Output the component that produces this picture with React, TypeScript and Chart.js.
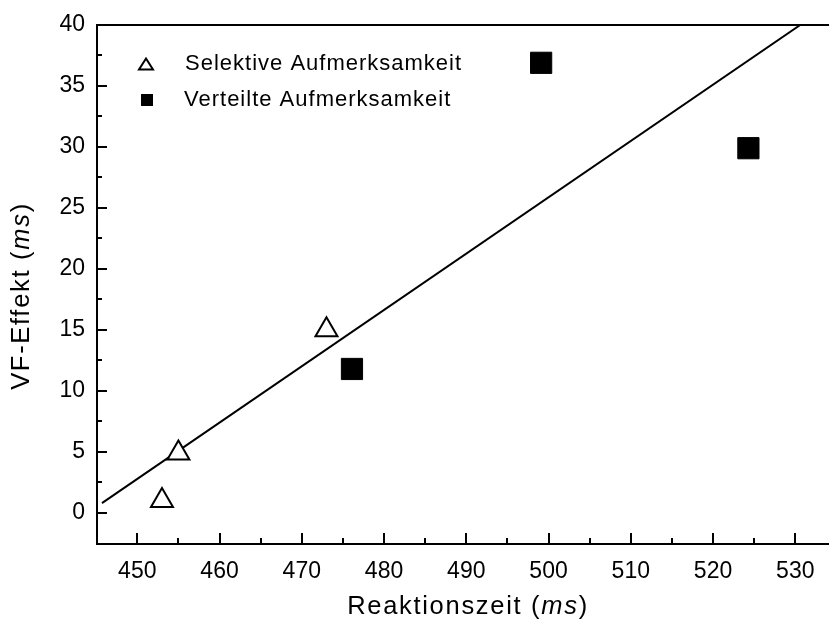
import React, { useEffect, useRef } from "react";
import { Chart, registerables } from "chart.js";

Chart.register(...registerables);

// ---- data ----
const selX = [453.0, 455.0, 473.0];
const selY = [1.0, 4.9, 15.0];
const verX = [476.1, 499.1, 524.3];
const verY = [11.8, 36.9, 29.9];
const fitX = [445.7, 530.6];
const fitY = [0.8, 40.0];
const xTicks = [450, 460, 470, 480, 490, 500, 510, 520, 530];
const xMinor = [455, 465, 475, 485, 495, 505, 515, 525];
const yTicks = [0, 5, 10, 15, 20, 25, 30, 35, 40];
const yMinor = [2.5, 7.5, 12.5, 17.5, 22.5, 27.5, 32.5, 37.5];
const legendLabels = ["Selektive Aufmerksamkeit", "Verteilte Aufmerksamkeit"];
const xTitleParts = ["Reaktionszeit (", "ms", ")"];
const yTitleParts = ["VF-Effekt (", "ms", ")"];

const FONT = "'Liberation Sans', Arial, Helvetica, sans-serif";

function drawMixed(ctx: any, parts: string[], cx: number, cy: number, size: number, spacing: number) {
  const fonts = parts.map((_, i) => (i === 1 ? `italic ${size}px ${FONT}` : `${size}px ${FONT}`));
  ctx.letterSpacing = `${spacing}px`;
  let total = 0;
  const widths = parts.map((p, i) => {
    ctx.font = fonts[i];
    const w = ctx.measureText(p).width;
    total += w;
    return w;
  });
  let x = cx - total / 2;
  ctx.textBaseline = "middle";
  ctx.textAlign = "left";
  parts.forEach((p, i) => {
    ctx.font = fonts[i];
    ctx.fillText(p, x, cy);
    x += widths[i];
  });
  ctx.letterSpacing = "0px";
}

const framePlugin = {
  id: "frame",
  afterDraw(chart: any) {
    const { ctx, chartArea, scales } = chart;
    const xs = scales.x;
    const ys = scales.y;
    const { left, right, top, bottom } = chartArea;
    ctx.save();
    ctx.strokeStyle = "#000";
    ctx.fillStyle = "#000";
    ctx.lineWidth = 2;
    // axes and top frame line
    ctx.beginPath();
    ctx.moveTo(left, top);
    ctx.lineTo(right, top);
    ctx.moveTo(left, top - 1);
    ctx.lineTo(left, bottom + 1);
    ctx.moveTo(left - 1, bottom);
    ctx.lineTo(right, bottom);
    ctx.stroke();
    // inward ticks
    ctx.beginPath();
    xTicks.forEach((v) => {
      const p = Math.round(xs.getPixelForValue(v));
      ctx.moveTo(p, bottom);
      ctx.lineTo(p, bottom - 11);
    });
    xMinor.forEach((v) => {
      const p = Math.round(xs.getPixelForValue(v));
      ctx.moveTo(p, bottom);
      ctx.lineTo(p, bottom - 6);
    });
    yTicks.forEach((v) => {
      const p = Math.round(ys.getPixelForValue(v));
      ctx.moveTo(left, p);
      ctx.lineTo(left + 10, p);
    });
    yMinor.forEach((v) => {
      const p = Math.round(ys.getPixelForValue(v));
      ctx.moveTo(left, p);
      ctx.lineTo(left + 5, p);
    });
    ctx.stroke();

    // legend
    ctx.lineWidth = 2;
    const tx = 146, ty = 65;
    ctx.beginPath();
    ctx.moveTo(tx, ty - 6.5);
    ctx.lineTo(tx + 7, ty + 4.5);
    ctx.lineTo(tx - 7, ty + 4.5);
    ctx.closePath();
    ctx.fillStyle = "#fff";
    ctx.fill();
    ctx.stroke();
    ctx.fillStyle = "#000";
    ctx.fillRect(141, 94, 12, 12);
    ctx.font = `22px ${FONT}`;
    ctx.letterSpacing = "1px";
    ctx.textBaseline = "middle";
    ctx.textAlign = "left";
    ctx.fillText(legendLabels[0], 185, 64);
    ctx.fillText(legendLabels[1], 184, 100);
    ctx.letterSpacing = "0px";

    // axis titles
    drawMixed(ctx, xTitleParts, 468, 607, 25.5, 1.7);
    ctx.save();
    ctx.translate(22, 296);
    ctx.rotate(-Math.PI / 2);
    drawMixed(ctx, yTitleParts, 0, 0, 25.5, 1.7);
    ctx.restore();
    ctx.restore();
  },
};

export default function App() {
  const ref = useRef<HTMLCanvasElement | null>(null);
  useEffect(() => {
    if (!ref.current) return;
    const chart = new Chart(ref.current, {
      type: "scatter",
      data: {
        datasets: [
          {
            label: legendLabels[0],
            data: selX.map((x, i) => ({ x, y: selY[i] })),
            pointStyle: "triangle",
            pointRadius: 12.7,
            backgroundColor: "#ffffff",
            borderColor: "#000000",
            borderWidth: 2,
          },
          {
            label: legendLabels[1],
            data: verX.map((x, i) => ({ x, y: verY[i] })),
            pointStyle: "rect",
            pointRadius: 15,
            backgroundColor: "#000000",
            borderColor: "#000000",
            borderWidth: 1,
          },
          {
            label: "fit",
            data: fitX.map((x, i) => ({ x, y: fitY[i] })),
            showLine: true,
            pointRadius: 0,
            borderColor: "#000000",
            borderWidth: 2,
            fill: false,
          },
        ],
      },
      options: {
        animation: false,
        responsive: false,
        devicePixelRatio: 1,
        layout: { autoPadding: false, padding: { top: 25, left: 0, right: 0, bottom: 0 } },
        plugins: { legend: { display: false }, tooltip: { enabled: false } },
        scales: {
          x: {
            type: "linear",
            min: 445.1,
            max: 534.1,
            afterBuildTicks: (s: any) => {
              s.ticks = xTicks.map((v) => ({ value: v }));
            },
            afterFit: (s: any) => {
              s.height = 82;
              s.paddingLeft = 0;
              s.paddingRight = 0;
            },
            grid: { display: false, drawTicks: false },
            border: { display: false },
            ticks: {
              color: "#000",
              font: { family: FONT, size: 23 },
              padding: 14,
              maxRotation: 0,
              autoSkip: false,
            },
          },
          y: {
            type: "linear",
            min: -2.55,
            max: 40,
            afterBuildTicks: (s: any) => {
              s.ticks = yTicks.map((v) => ({ value: v }));
            },
            afterFit: (s: any) => {
              s.width = 97;
              s.paddingTop = 0;
              s.paddingBottom = 0;
            },
            grid: { display: false, drawTicks: false },
            border: { display: false },
            ticks: {
              color: "#000",
              font: { family: FONT, size: 23 },
              padding: 12,
              autoSkip: false,
            },
          },
        },
      },
      plugins: [framePlugin],
    });
    return () => chart.destroy();
  }, []);
  return (
    <div style={{ position: "fixed", left: 0, top: 0, width: 829, height: 626, background: "#fff" }}>
      <canvas ref={ref} width={829} height={626} style={{ display: "block" }} />
    </div>
  );
}
